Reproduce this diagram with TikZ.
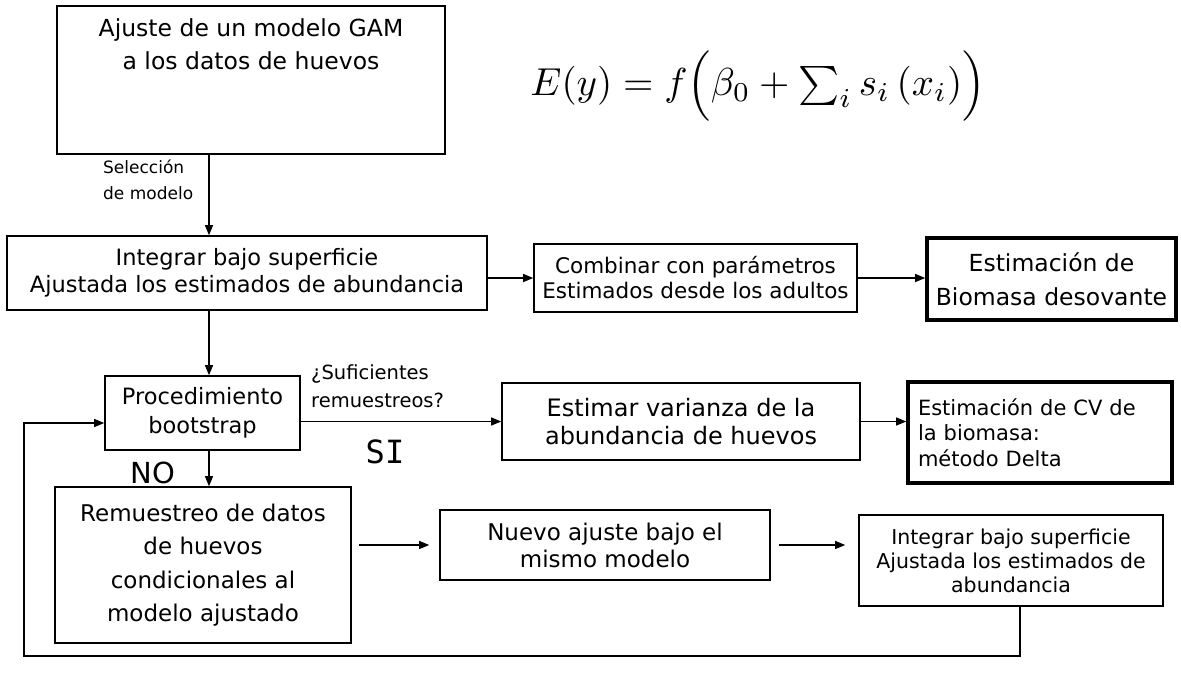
\documentclass[tikz,border=0pt]{standalone}
\usepackage{fontspec}
\setmainfont{DejaVu Sans}
\newfontfamily\monofnt{DejaVu Sans Mono}
\usetikzlibrary{arrows.meta,calc}
\tikzset{
  box/.style={draw=black, line width=1.6pt, inner sep=0pt, align=center},
  thickbox/.style={box, line width=3.6pt},
  arr/.style={line width=1.2pt, -{Triangle[length=10pt,width=8pt]}},
}
\begin{document}
\begin{tikzpicture}[x=1pt,y=-1pt]
\useasboundingbox[fill=white] (0,0) rectangle (1181,686);

% top box
\node[box, minimum width=388pt, minimum height=148pt] (b1) at (251,80) {};
\node[anchor=north, align=center, inner sep=0pt, font=\fontsize{23.5}{33}\selectfont] (b1t) at ([yshift=-13pt]b1.north) {Ajuste de un modelo GAM\\a los datos de huevos};

% formula
\node[inner sep=0pt] (eq) at (758,86) {\resizebox{455pt}{!}{$E(y) = f\Bigl(\beta_0 + \textstyle\sum_i s_i\,(x_i)\Bigr)$}};

% second row
\node[box, minimum width=480pt, minimum height=74pt, font=\fontsize{22.5}{27}\selectfont] (b2) at (247,273) {Integrar bajo superficie\\Ajustada los estimados de abundancia};
\node[box, minimum width=323pt, minimum height=68pt, font=\fontsize{21.5}{25}\selectfont] (cb) at (695.5,278) {Combinar con parámetros\\Estimados desde los adultos};
\node[thickbox, minimum width=249pt, minimum height=82pt, font=\fontsize{23.5}{34}\selectfont] (bm) at (1051.5,279) {Estimación de\\Biomasa desovante};

% third row
\node[box, minimum width=195pt, minimum height=74pt, font=\fontsize{22.5}{29}\selectfont] (bs) at (202.5,413) {Procedimiento\\bootstrap};
\node[box, minimum width=358pt, minimum height=77pt, font=\fontsize{24}{28}\selectfont] (es) at (681,421.5) {Estimar varianza de la\\abundancia de huevos};
\node[thickbox, minimum height=101pt, text width=244pt, inner xsep=10pt, align=left, font=\fontsize{21}{25.5}\selectfont] (cv) at (1040,432.5) {Estimación de CV de\\la biomasa:\\método Delta};

% fourth row
\node[box, minimum width=296pt, minimum height=156pt, font=\fontsize{23}{33.5}\selectfont] (rm) at (203,565) {Remuestreo de datos\\de huevos\\condicionales al\\modelo ajustado};
\node[box, minimum width=330pt, minimum height=70pt, font=\fontsize{23}{27}\selectfont] (nv) at (605,545) {Nuevo ajuste bajo el\\mismo modelo};
\node[box, minimum width=304pt, minimum height=91pt, font=\fontsize{20.5}{24}\selectfont] (i3) at (1011,560.5) {Integrar bajo superficie\\Ajustada los estimados de\\abundancia};

% labels
\node[anchor=north west, align=left, inner sep=0pt, font=\fontsize{17}{26}\selectfont] (sel) at (103,160) {Selección\\de modelo};
\node[anchor=west, align=left, inner sep=0pt, font=\fontsize{19.5}{28}\selectfont] (suf) at (311,386) {¿Suficientes\\remuestreos?};
\node[inner sep=0pt, font=\monofnt\fontsize{32}{32}\selectfont] (si) at (385,452) {SI};
\node[inner sep=0pt, font=\fontsize{29}{29}\selectfont] (no) at (153,473) {NO};

% helper coordinates
\coordinate (ax) at (209,0);
\coordinate (lpa) at (1020,656);
\coordinate (lpb) at (24,656);
\coordinate (lpc) at (24,423);

% connectors
\draw[arr] (b1.south -| ax) -- (b2.north -| ax);
\draw[arr] (b2.south -| ax) -- (bs.north -| ax);
\draw[arr] (bs.south -| ax) -- (rm.north -| ax);
\draw[arr] (cb.west -| b2.east) -- (cb.west);
\draw[arr] (cb.east) -- (cb.east -| bm.west);
\draw[arr] (es.west -| bs.east) -- (es.west);
\draw[arr] (es.east) -- (es.east -| cv.west);
\draw[arr, shorten <=7pt, shorten >=10pt] (rm.east |- nv.west) -- (nv.west);
\draw[arr, shorten <=8pt, shorten >=13pt] (nv.east) -- (nv.east -| i3.west);
\draw[arr] (i3.south -| lpa) -- (lpa) -- (lpb) -- (lpc) -- (lpc -| bs.west);
\end{tikzpicture}
\end{document}
